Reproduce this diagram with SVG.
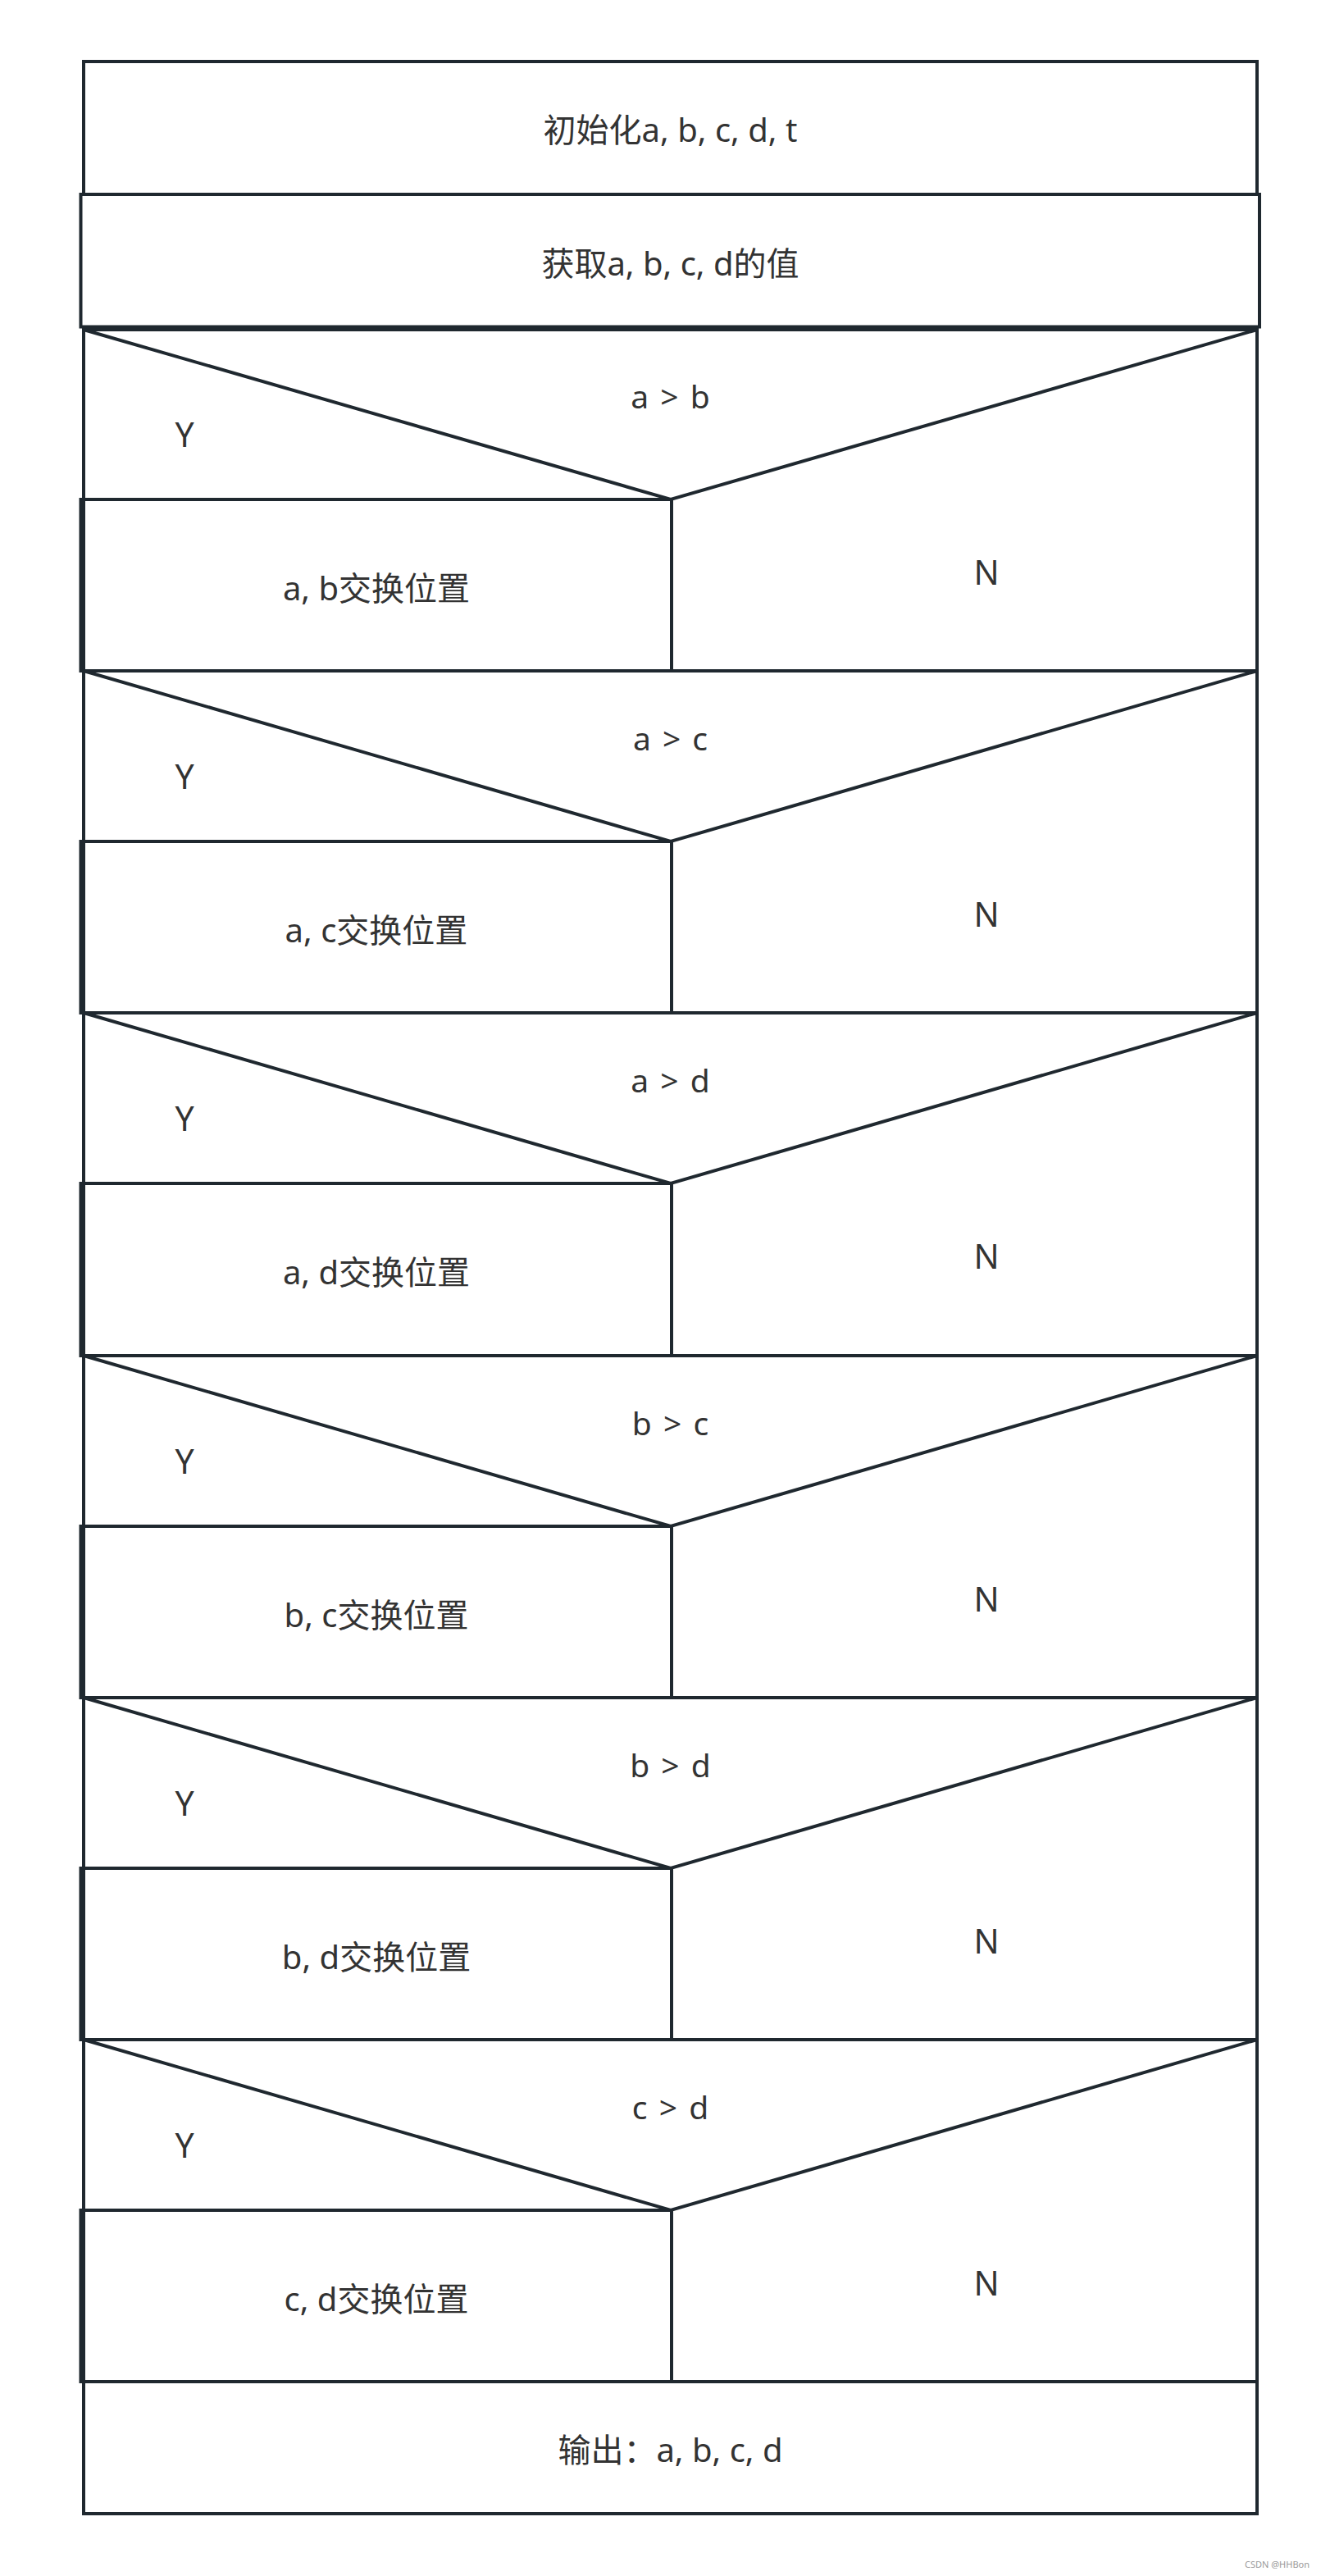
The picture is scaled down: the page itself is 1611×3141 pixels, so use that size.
<svg xmlns="http://www.w3.org/2000/svg" width="1611" height="3141" viewBox="0 0 1611 3141">
<style>
.b{fill:none;stroke:#1f282f;stroke-width:4}
.t{font-family:"Noto Sans","Noto Sans CJK SC",sans-serif;font-size:40px;fill:#333;text-anchor:middle}
.c{font-family:"Noto Sans","Noto Sans CJK SC",sans-serif;font-size:39px;fill:#333;text-anchor:middle;word-spacing:4px}
.yn{font-family:"Noto Sans","Noto Sans CJK SC",sans-serif;font-size:41px;fill:#333;text-anchor:middle}
.w{font-family:"Noto Sans","Noto Sans CJK SC",sans-serif;font-size:11px;fill:#9a9a9a;text-anchor:end}
</style>
<rect width="1611" height="3141" fill="#fff"/>
<g id="init">
<rect class="b" x="102" y="75" width="1431" height="162"/>
<text class="t" x="817.5" y="173">初始化a, b, c, d, t</text>
</g>
<g id="input">
<rect class="b" x="98.5" y="237" width="1437.5" height="161.5"/>
<text class="t" x="817.5" y="336">获取a, b, c, d的值</text>
</g>
<g id="dec1" transform="translate(0,402)">
<rect class="b" x="102" y="0" width="1431" height="416"/>
<polyline class="b" points="102,0 818,207 1533,0"/>
<rect class="b" x="98.5" y="207" width="720.5" height="209"/>
<text class="c" x="817.5" y="96">a &gt; b</text>
<text class="yn" x="225" y="143">Y</text>
<text class="yn" x="1203" y="311">N</text>
<text class="t" x="459" y="330">a, b交换位置</text>
</g>
<g id="dec2" transform="translate(0,818)">
<rect class="b" x="102" y="0" width="1431" height="417"/>
<polyline class="b" points="102,0 818,208 1533,0"/>
<rect class="b" x="98.5" y="208" width="720.5" height="209"/>
<text class="c" x="817.5" y="97">a &gt; c</text>
<text class="yn" x="225" y="144">Y</text>
<text class="yn" x="1203" y="312">N</text>
<text class="t" x="459" y="331">a, c交换位置</text>
</g>
<g id="dec3" transform="translate(0,1235)">
<rect class="b" x="102" y="0" width="1431" height="418"/>
<polyline class="b" points="102,0 818,208 1533,0"/>
<rect class="b" x="98.5" y="208" width="720.5" height="210"/>
<text class="c" x="817.5" y="97">a &gt; d</text>
<text class="yn" x="225" y="144">Y</text>
<text class="yn" x="1203" y="312">N</text>
<text class="t" x="459" y="331">a, d交换位置</text>
</g>
<g id="dec4" transform="translate(0,1653)">
<rect class="b" x="102" y="0" width="1431" height="417"/>
<polyline class="b" points="102,0 818,208 1533,0"/>
<rect class="b" x="98.5" y="208" width="720.5" height="209"/>
<text class="c" x="817.5" y="97">b &gt; c</text>
<text class="yn" x="225" y="144">Y</text>
<text class="yn" x="1203" y="312">N</text>
<text class="t" x="459" y="331">b, c交换位置</text>
</g>
<g id="dec5" transform="translate(0,2070)">
<rect class="b" x="102" y="0" width="1431" height="417"/>
<polyline class="b" points="102,0 818,208 1533,0"/>
<rect class="b" x="98.5" y="208" width="720.5" height="209"/>
<text class="c" x="817.5" y="97">b &gt; d</text>
<text class="yn" x="225" y="144">Y</text>
<text class="yn" x="1203" y="312">N</text>
<text class="t" x="459" y="331">b, d交换位置</text>
</g>
<g id="dec6" transform="translate(0,2487)">
<rect class="b" x="102" y="0" width="1431" height="417"/>
<polyline class="b" points="102,0 818,208 1533,0"/>
<rect class="b" x="98.5" y="208" width="720.5" height="209"/>
<text class="c" x="817.5" y="97">c &gt; d</text>
<text class="yn" x="225" y="144">Y</text>
<text class="yn" x="1203" y="312">N</text>
<text class="t" x="459" y="331">c, d交换位置</text>
</g>
<g id="output">
<rect class="b" x="102" y="2904" width="1431" height="161"/>
<text class="t" x="817.5" y="3002">输出：a, b, c, d</text>
</g>
<g id="connectors"></g>
<text class="w" x="1597" y="3131">CSDN @HHBon</text>
</svg>
